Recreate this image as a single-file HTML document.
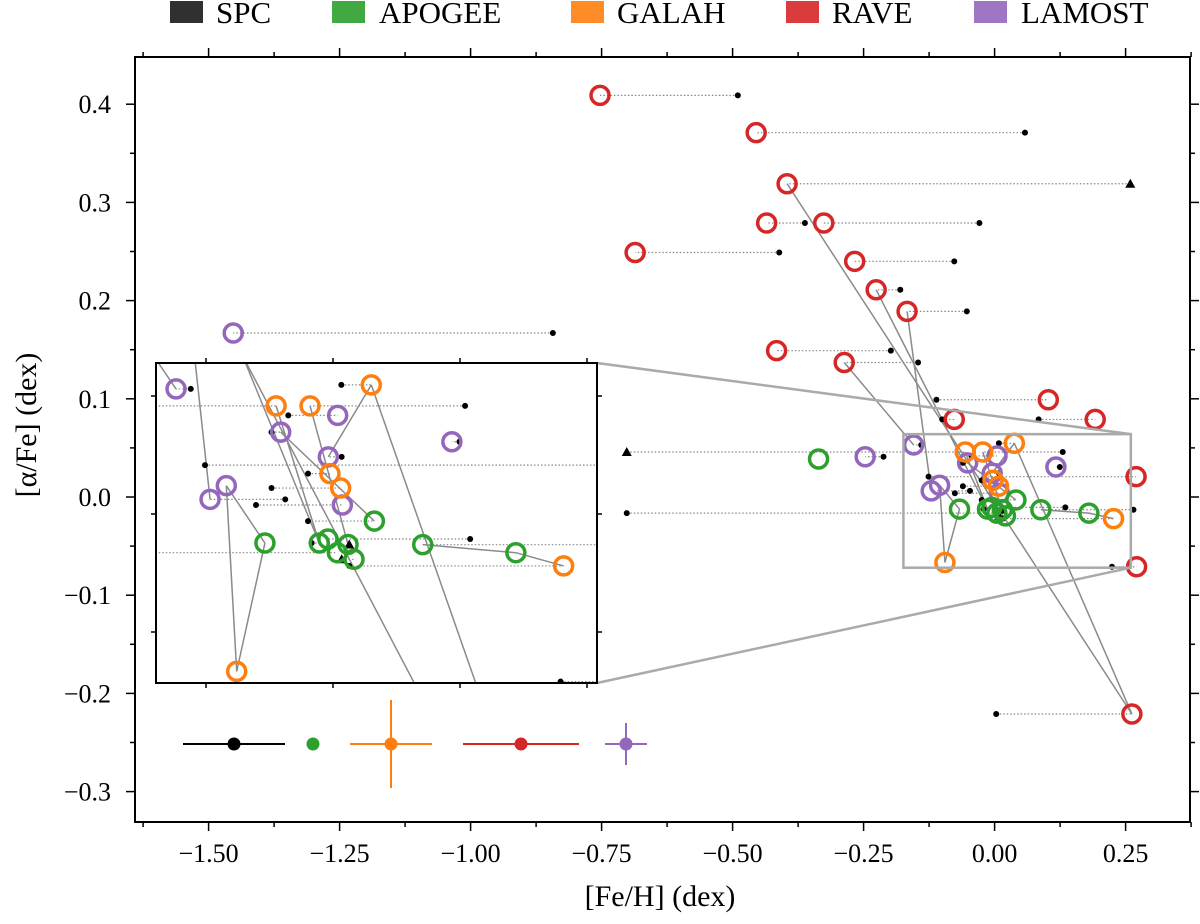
<!DOCTYPE html>
<html><head><meta charset="utf-8"><style>
body{margin:0;background:#fff;overflow:hidden}
svg{display:block;font-family:"Liberation Serif",serif}
</style></head><body>
<svg id="chart" width="1200" height="924" viewBox="0 0 1200 924" xmlns="http://www.w3.org/2000/svg">
<defs>
<clipPath id="clipMain"><rect x="135" y="57" width="1055" height="765"/></clipPath>
<clipPath id="clipInset"><rect x="156" y="363" width="441" height="320"/></clipPath>
</defs>
<g id="legend"></g>
<g id="mainAxes"></g>
<g id="mainMarks" clip-path="url(#clipMain)"></g>
<g id="zoomBox"></g>
<g id="inset"></g>
<g id="errLegend"></g>
<text x="660" y="906" font-size="30" text-anchor="middle">[Fe/H] (dex)</text>
<text transform="translate(36,425) rotate(-90)" font-size="30" text-anchor="middle">[α/Fe] (dex)</text>
</svg>
<script>
// ---- data ----
const surveys = ["R","R","R","R","R","R","R","R","R","R","R","R","R","R","R","R","R",
  "L","L","L","L","L","L","L","L","L","L",
  "A","A","A","A","A","A","A","A","A","A",
  "G","G","G","G","G","G","G"];
const fehValues = [-0.753,-0.455,-0.396,-0.435,-0.326,-0.686,-0.267,-0.226,-0.167,-0.416,-0.287,0.1025,-0.077,0.192,0.27,0.271,0.262,
  -1.453,-0.247,-0.1545,0.0046,-0.0515,0.117,-0.0046,-0.105,-0.121,0.0092,
  -0.336,0.0407,-0.067,-0.0135,-0.005,0.0148,0.0043,0.0207,0.0883,0.180,
  -0.056,-0.0226,0.0377,-0.003,0.0075,0.227,-0.0948];
const alphaValues = [0.409,0.371,0.319,0.279,0.279,0.249,0.24,0.211,0.189,0.149,0.137,0.099,0.079,0.079,0.0207,-0.071,-0.221,
  0.167,0.041,0.053,0.0418,0.0347,0.0306,0.0242,0.012,0.0062,0.0038,
  0.0387,-0.003,-0.0123,-0.0123,-0.0106,-0.0129,-0.0164,-0.0192,-0.013,-0.0164,
  0.0458,0.0458,0.0547,0.0171,0.011,-0.022,-0.0667];
const spcFeh = [-0.49,0.058,0.259,-0.362,-0.029,-0.411,-0.077,-0.18,-0.053,-0.198,-0.146,-0.111,-0.1,0.084,-0.126,0.224,0.003,
  -0.843,-0.212,-0.14,-0.044,-0.0605,0.1245,0.0085,null,-0.047,-0.0758,
  null,-0.0246,null,-0.021,0.135,0.016,-0.702,0.0085,0.265,null,
  -0.702,0.13,0.0082,-0.0246,-0.0605,0.016,null];
const spcTriangle = [2,32,34,37];
const links = [[2,16],[39,16],[10,19],[8,25],[7,30],[23,39],[35,36],[36,42],[24,29],[29,43],[43,24],[21,28],[37,30],[38,32]];
const xTicks = [-1.50,-1.25,-1.00,-0.75,-0.50,-0.25,0.00,0.25];
const yTicks = [0.4,0.3,0.2,0.1,0.0,-0.1,-0.2,-0.3];
const insetXTicks = [-0.125,0,0.125,0.25];
const insetYTicks = [0.05,0,-0.05];

const COL = {R:"#d62728",L:"#9467bd",A:"#2ca02c",G:"#ff7f0e",S:"#000"};
const NS="http://www.w3.org/2000/svg";
function mk(tag, attrs, parent){const e=document.createElementNS(NS,tag);for(const k in attrs)e.setAttribute(k,attrs[k]);parent.appendChild(e);return e;}
const mx = v => 994.6 + 524*v, my = v => 497 - 982*v;
const ix = v => 333 + 1016*v, iy = v => 514 - 2360*v;
const fmt = v => (v<0?"−":"")+Math.abs(v).toFixed(2);
const fmt1 = v => (v<0?"−":"")+Math.abs(v).toFixed(1);

function drawMarks(g, X, Y, tag){
  const n = fehValues.length;
  for(let i=0;i<n;i++){ if(spcFeh[i]===null) continue;
    const l=mk("line",{x1:X(spcFeh[i]),y1:Y(alphaValues[i]),x2:X(fehValues[i]),y2:Y(alphaValues[i]),stroke:"#888","stroke-width":1.2,"stroke-dasharray":"1.5 2"},g);
    
    
  }
  links.forEach(([a,b])=>{
    const l=mk("line",{x1:X(fehValues[a]),y1:Y(alphaValues[a]),x2:X(fehValues[b]),y2:Y(alphaValues[b]),stroke:"#8a8a8a","stroke-width":1.5},g);
    
    
  });
  for(let i=0;i<n;i++){ if(spcFeh[i]===null) continue;
    const x=X(spcFeh[i]), y=Y(alphaValues[i]);
    let m;
    if(spcTriangle.includes(i)) m=mk("polygon",{points:`${x},${y-5} ${x-5},${y+4} ${x+5},${y+4}`,fill:"#000"},g);
    else m=mk("circle",{cx:x,cy:y,r:3,fill:"#000"},g);
    
    
  }
  for(let i=0;i<n;i++){
    const c=mk("circle",{cx:X(fehValues[i]),cy:Y(alphaValues[i]),r:9,fill:"none",stroke:COL[surveys[i]],"stroke-width":3.5},g);
    
    
  }
}

// legend
const lg=document.getElementById("legend");
[["SPC","S",170,216],["APOGEE","A",332,379],["GALAH","G",571,617],["RAVE","R",786,832],["LAMOST","L",974,1021]].forEach(([t,k,sx,tx])=>{
  const r=mk("rect",{x:sx,y:1,width:33,height:22,fill:k==="S"?"#1a1a1a":COL[k],opacity:0.9},lg);
  
  
  const tt=mk("text",{x:tx,y:23,"font-size":31},lg); tt.textContent=t;
  
  
});

// main axes
const ax=document.getElementById("mainAxes");
mk("rect",{x:135,y:57,width:1055,height:765,fill:"none",stroke:"#000","stroke-width":2},ax);
for(let v=-1.625; v<=0.376; v+=0.125){
  const major = xTicks.some(t=>Math.abs(t-v)<1e-6), L = major?9:5, x=mx(v);
  mk("line",{x1:x,y1:822,x2:x,y2:822+L,stroke:"#000","stroke-width":1.5},ax);
  mk("line",{x1:x,y1:57,x2:x,y2:57-L,stroke:"#000","stroke-width":1.5},ax);
}
xTicks.forEach(v=>{const t=mk("text",{x:mx(v),y:862,"font-size":26,"text-anchor":"middle"},ax);t.textContent=fmt(v);
  });
for(let v=-0.35; v<=0.47; v+=0.05){
  const y=my(v); if(y<57||y>822) continue;
  const major = yTicks.some(t=>Math.abs(t-v)<1e-6), L=major?9:5;
  mk("line",{x1:135,y1:y,x2:135-L,y2:y,stroke:"#000","stroke-width":1.5},ax);
  mk("line",{x1:1190,y1:y,x2:1190+L,y2:y,stroke:"#000","stroke-width":1.5},ax);
}
yTicks.forEach(v=>{const t=mk("text",{x:111,y:my(v)+9,"font-size":26,"text-anchor":"end"},ax);t.textContent=fmt1(v);
  });

drawMarks(document.getElementById("mainMarks"), mx, my, "main");

// zoom box + connectors
const zb=document.getElementById("zoomBox");
const zx0=mx(-0.174), zx1=mx(0.26), zy0=my(0.064), zy1=my(-0.072);
mk("rect",{x:zx0,y:zy0,width:zx1-zx0,height:zy1-zy0,fill:"none",stroke:"#aaa","stroke-width":2.5},zb);
mk("line",{x1:zx1,y1:zy0,x2:597,y2:363,stroke:"#aaa","stroke-width":2.5},zb);
mk("line",{x1:zx1,y1:zy1,x2:597,y2:683,stroke:"#aaa","stroke-width":2.5},zb);

// inset
const ins=document.getElementById("inset");
mk("rect",{x:156,y:363,width:441,height:320,fill:"#fff"},ins);
const ig=mk("g",{"clip-path":"url(#clipInset)"},ins);
drawMarks(ig, ix, iy, "inset");
mk("rect",{x:156,y:363,width:441,height:320,fill:"none",stroke:"#000","stroke-width":2},ins);
insetXTicks.forEach(v=>{const x=ix(v);
  mk("line",{x1:x,y1:363,x2:x,y2:358,stroke:"#000","stroke-width":1.5},ins);
  mk("line",{x1:x,y1:683,x2:x,y2:688,stroke:"#000","stroke-width":1.5},ins);});
insetYTicks.forEach(v=>{const y=iy(v);
  mk("line",{x1:156,y1:y,x2:151,y2:y,stroke:"#000","stroke-width":1.5},ins);
  mk("line",{x1:597,y1:y,x2:602,y2:y,stroke:"#000","stroke-width":1.5},ins);});

// error-bar legend
const el=document.getElementById("errLegend");
const eb=[["S",234,51,0],["A",313,0,0],["G",391,41,44],["R",521,58,0],["L",626,21,21]];
eb.forEach(([k,x,hx,hy])=>{
  const g=mk("g",{},el);
  
  
  if(hx) mk("line",{x1:x-hx,y1:744,x2:x+hx,y2:744,stroke:COL[k],"stroke-width":2},g);
  if(hy) mk("line",{x1:x,y1:744-hy,x2:x,y2:744+hy,stroke:COL[k],"stroke-width":2},g);
  mk("circle",{cx:x,cy:744,r:6.5,fill:COL[k]},g);
});
</script>
</body></html>
